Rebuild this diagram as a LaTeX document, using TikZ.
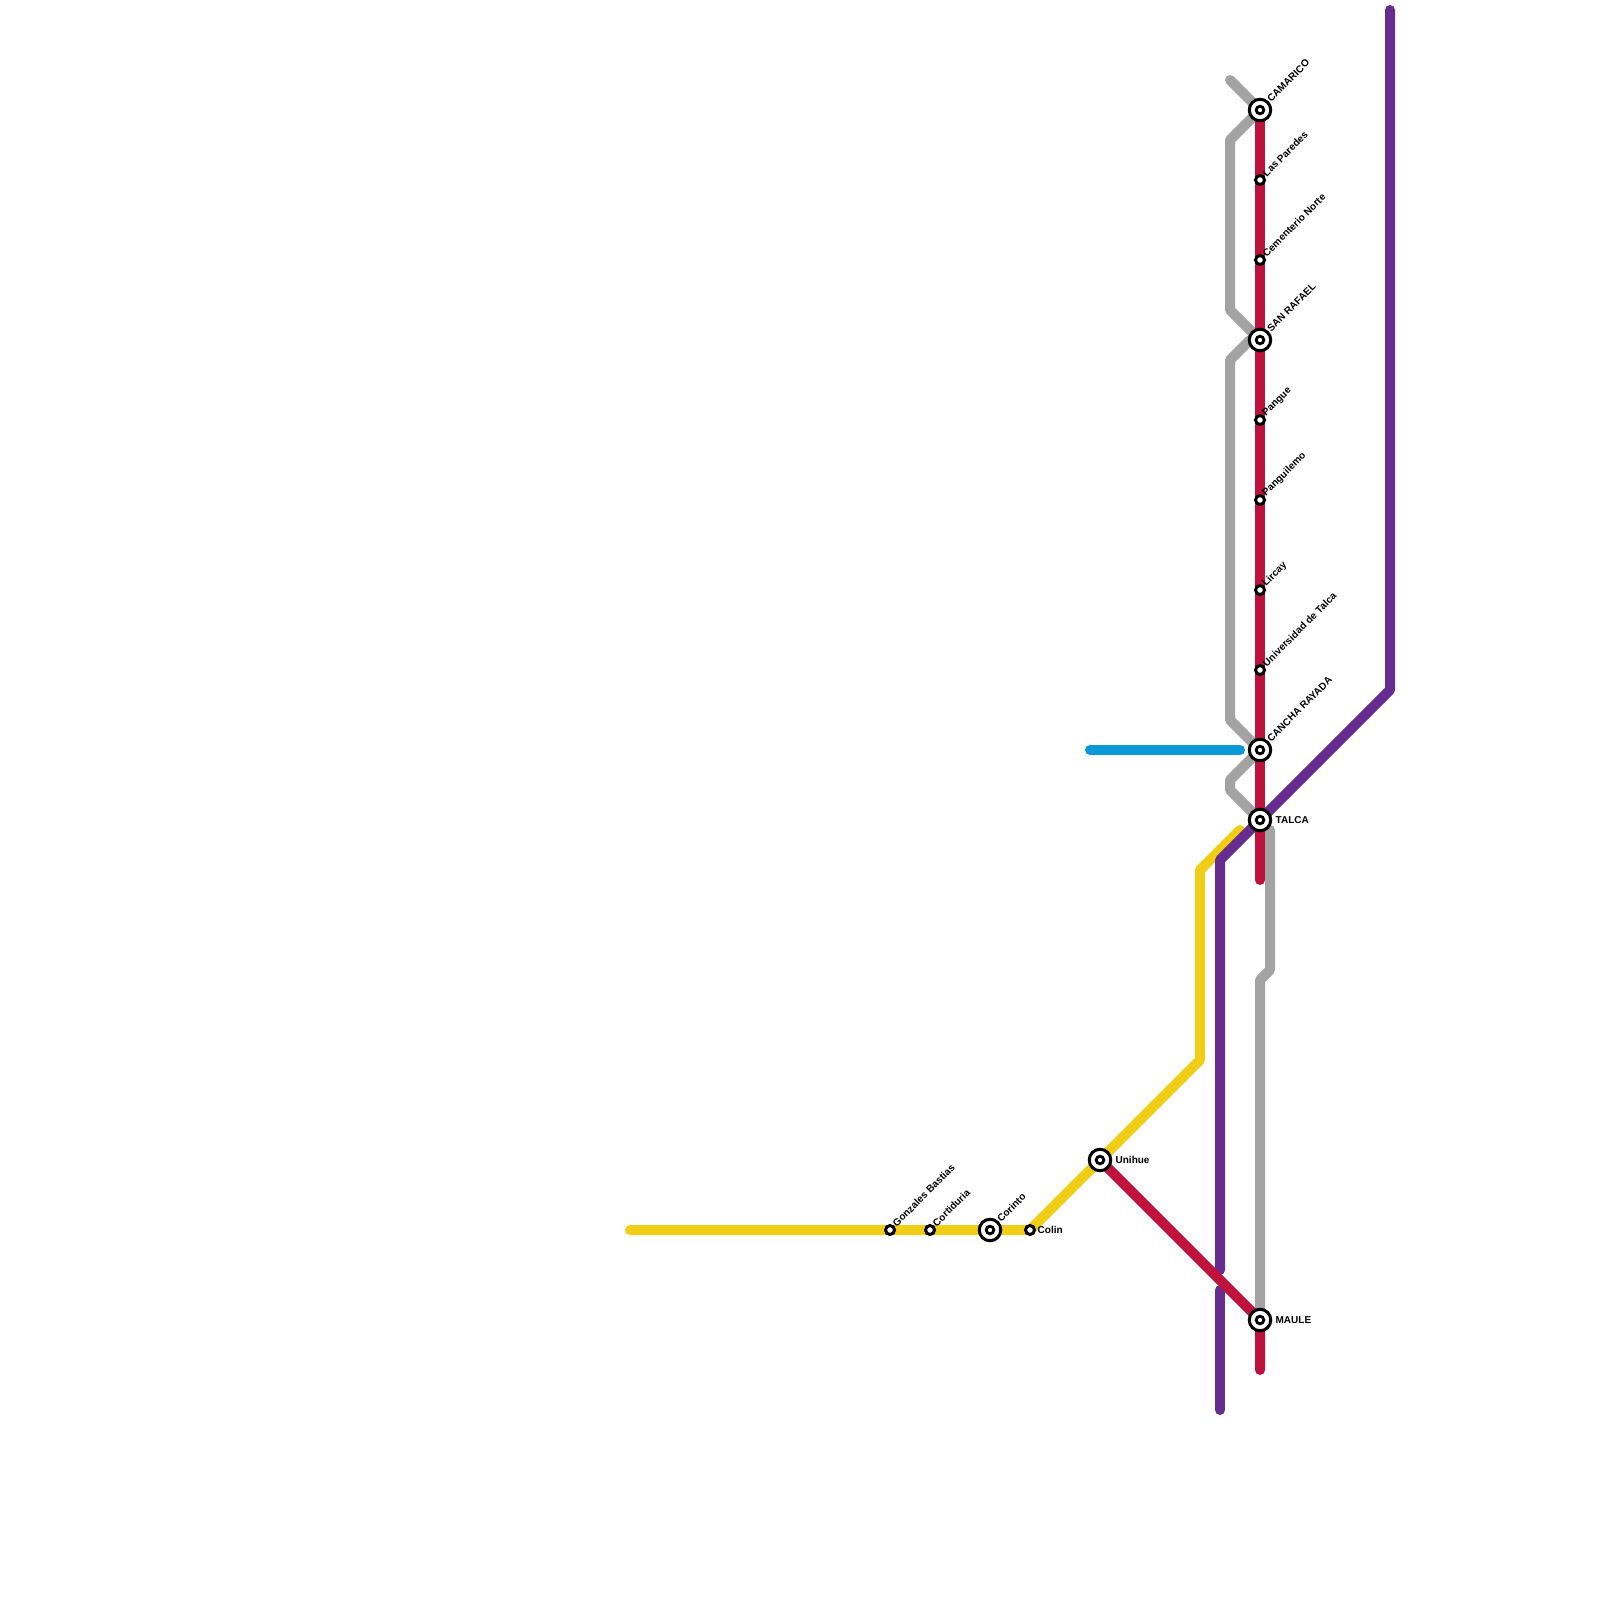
\documentclass[tikz,border=0pt]{standalone}
\usepackage{fontspec}
\setmainfont{Liberation Sans}
\usetikzlibrary{backgrounds}

\tikzset{
  metro/.style={line width=10pt, line cap=round, line join=round},
  stopname/.style={font=\bfseries\fontsize{10}{12}\selectfont, inner sep=0pt, text=black},
  slanted/.style={stopname, rotate=45, anchor=west, label distance=1.25pt},
  slantednear/.style={slanted, label distance=1pt},
  flat/.style={stopname, anchor=west, label distance=3.2pt},
  flatnear/.style={flat, label distance=1.5pt},
  stop/.style={circle, draw=black, fill=white, line width=3pt, minimum size=9pt, inner sep=0pt},
  bigstop/.style={stop, minimum size=21.5pt, path picture={
    \draw[black, line width=2.8pt] (path picture bounding box.center) circle (3.8pt);}},
}

\begin{document}
\begin{tikzpicture}[x=1pt, y=-1pt]
    \useasboundingbox (0,0) rectangle (1600,1600);

    % stations, north to south
    \node[bigstop, label={[slanted]45:CAMARICO}] (camarico) at (1260,110) {};
    \node[stop, label={[slantednear]45:Las Paredes}] (paredes) at (1260,180) {};
    \node[stop, label={[slantednear]45:Cementerio Norte}] (cementerio) at (1260,260) {};
    \node[bigstop, label={[slanted]45:SAN RAFAEL}] (rafael) at (1260,340) {};
    \node[stop, label={[slantednear]45:Pangue}] (pangue) at (1260,420) {};
    \node[stop, label={[slantednear]45:Panguilemo}] (panguilemo) at (1260,500) {};
    \node[stop, label={[slantednear]45:Lircay}] (lircay) at (1260,590) {};
    \node[stop, label={[slantednear]45:Universidad de Talca}] (universidad) at (1260,670) {};
    \node[bigstop, label={[slanted]45:CANCHA RAYADA}] (cancha) at (1260,750) {};
    \node[bigstop, label={[flat]0:TALCA}] (talca) at (1260,820) {};
    \node[bigstop, label={[flat]0:MAULE}] (maule) at (1260,1320) {};

    % yellow branch
    \node[bigstop, label={[flat]0:Unihue}] (unihue) at (1100,1160) {};
    \node[stop, label={[flatnear]0:Colin}] (colin) at (1030,1230) {};
    \node[bigstop, label={[slanted]45:Corinto}] (corinto) at (990,1230) {};
    \node[stop, label={[slantednear]45:Cortiduria}] (cortiduria) at (930,1230) {};
    \node[stop, label={[slantednear]45:Gonzales Bastias}] (gonzales) at (890,1230) {};

    % line ends and bends
    \coordinate (grayA) at (1230,80);
    \coordinate (grayB) at (1230,140);
    \coordinate (grayC) at (1230,310);
    \coordinate (grayD) at (1230,360);
    \coordinate (grayE) at (1250,340);
    \coordinate (grayF) at (1230,720);
    \coordinate (grayG) at (1230,780);
    \coordinate (grayH) at (1230,790);
    \coordinate (grayI) at (1270,830);
    \coordinate (grayJ) at (1270,970);
    \coordinate (grayK) at (1260,980);
    \coordinate (blueA) at (1090,750);
    \coordinate (blueB) at (1240,750);
    \coordinate (yellowA) at (630,1230);
    \coordinate (yellowB) at (1200,1060);
    \coordinate (yellowC) at (1200,870);
    \coordinate (yellowD) at (1240,830);
    \coordinate (purpleA) at (1390,10);
    \coordinate (purpleB) at (1390,690);
    \coordinate (purpleC) at (1220,860);
    \coordinate (purpleD) at (1220,1270);
    \coordinate (purpleE) at (1220,1290);
    \coordinate (purpleF) at (1220,1410);
    \coordinate (redA) at (1260,880);
    \coordinate (redB) at (1260,1370);

    \begin{scope}[on background layer]
      \fill[white] (0,0) rectangle (1600,1600);
      \draw[metro, color={rgb,255:red,163;green,163;blue,163}] (grayA) -- (camarico.center) -- (grayB) -- (grayC) -- (rafael.center) -- (grayE) -- (grayD) -- (grayF) -- (cancha.center) -- (grayG) -- (grayH) -- (talca.center);
      \draw[metro, color={rgb,255:red,163;green,163;blue,163}] (grayI) -- (grayJ) -- (grayK) -- (maule.center);
      \draw[metro, color={rgb,255:red,240;green,206;blue,21}] (yellowA) -- (gonzales.center) -- (cortiduria.center) -- (corinto.center) -- (colin.center) -- (unihue.center) -- (yellowB) -- (yellowC) -- (yellowD);
      \draw[metro, color={rgb,255:red,102;green,44;blue,144}] (purpleA) -- (purpleB) -- (talca.center) -- (purpleC) -- (purpleD);
      \draw[metro, color={rgb,255:red,102;green,44;blue,144}] (purpleE) -- (purpleF);
      \draw[metro, color={rgb,255:red,190;green,18;blue,60}] (camarico.center) -- (paredes.center) -- (cementerio.center) -- (rafael.center) -- (pangue.center) -- (panguilemo.center) -- (lircay.center) -- (universidad.center) -- (cancha.center) -- (talca.center) -- (redA);
      \draw[metro, color={rgb,255:red,190;green,18;blue,60}] (unihue.center) -- (maule.center) -- (redB);
      \draw[metro, color={rgb,255:red,9;green,152;blue,216}] (blueA) -- (blueB);
    \end{scope}
  \end{tikzpicture}
\end{document}
